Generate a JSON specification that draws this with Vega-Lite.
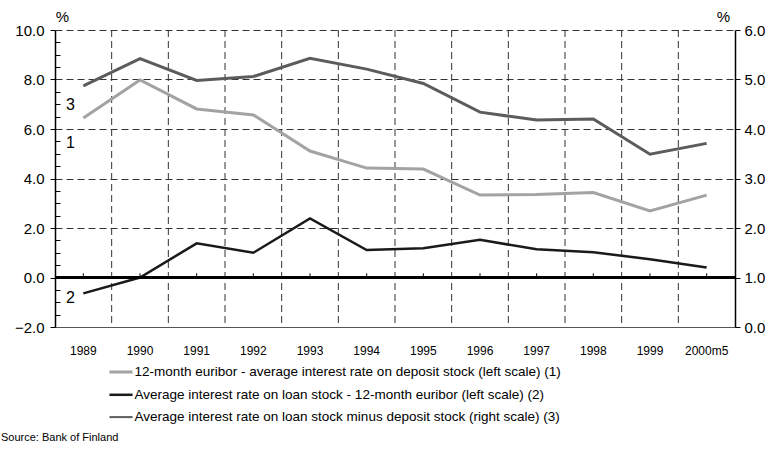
{
  "$schema": "https://vega.github.io/schema/vega-lite/v6.json",
  "width": 680,
  "height": 297,
  "autosize": {"type": "none"},
  "padding": {"left": 55, "top": 30, "right": 39, "bottom": 123},
  "background": "white",
  "config": {
    "font": "Liberation Sans",
    "view": {"stroke": null},
    "axis": {"labelColor": "#000", "titleColor": "#000", "tickColor": "#000", "domainColor": "#000"},
    "axisX": {"title": null, "labelAngle": 0, "labelFontSize": 12, "labelPadding": 18, "ticks": false, "domain": true, "domainColor": "#555", "domainWidth": 1, "grid": false}
  },
  "title": {
    "text": "Source: Bank of Finland",
    "orient": "bottom",
    "anchor": "start",
    "frame": "group",
    "fontSize": 11,
    "fontWeight": "normal",
    "color": "#000",
    "dx": -54,
    "offset": 8
  },
  "datasets": {
    "main": [
      {"year": "1989", "s": "1", "value": 6.44},
      {"year": "1990", "s": "1", "value": 7.98},
      {"year": "1991", "s": "1", "value": 6.81},
      {"year": "1992", "s": "1", "value": 6.57},
      {"year": "1993", "s": "1", "value": 5.11},
      {"year": "1994", "s": "1", "value": 4.42},
      {"year": "1995", "s": "1", "value": 4.38},
      {"year": "1996", "s": "1", "value": 3.33},
      {"year": "1997", "s": "1", "value": 3.35},
      {"year": "1998", "s": "1", "value": 3.43},
      {"year": "1999", "s": "1", "value": 2.69},
      {"year": "2000m5", "s": "1", "value": 3.33},
      {"year": "1989", "s": "2", "value": -0.64},
      {"year": "1990", "s": "2", "value": 0.0},
      {"year": "1991", "s": "2", "value": 1.38},
      {"year": "1992", "s": "2", "value": 1.0},
      {"year": "1993", "s": "2", "value": 2.39},
      {"year": "1994", "s": "2", "value": 1.11},
      {"year": "1995", "s": "2", "value": 1.18},
      {"year": "1996", "s": "2", "value": 1.52},
      {"year": "1997", "s": "2", "value": 1.14},
      {"year": "1998", "s": "2", "value": 1.02},
      {"year": "1999", "s": "2", "value": 0.74},
      {"year": "2000m5", "s": "2", "value": 0.4},
      {"year": "1989", "s": "3", "value": 4.87},
      {"year": "1990", "s": "3", "value": 5.42},
      {"year": "1991", "s": "3", "value": 4.98},
      {"year": "1992", "s": "3", "value": 5.06},
      {"year": "1993", "s": "3", "value": 5.43},
      {"year": "1994", "s": "3", "value": 5.21},
      {"year": "1995", "s": "3", "value": 4.92},
      {"year": "1996", "s": "3", "value": 4.34},
      {"year": "1997", "s": "3", "value": 4.18},
      {"year": "1998", "s": "3", "value": 4.2},
      {"year": "1999", "s": "3", "value": 3.49},
      {"year": "2000m5", "s": "3", "value": 3.71}
    ],
    "labels": [
      {"year": "1989", "value": 6.97, "label": "3"},
      {"year": "1989", "value": 5.43, "label": "1"},
      {"year": "1989", "value": -0.83, "label": "2"}
    ]
  },
  "data": {"name": "main"},
  "resolve": {"scale": {"y": "independent"}, "axis": {"y": "independent"}},
  "layer": [
    {
      "transform": [{"filter": "datum.s == '1' && datum.year != '1989'"}],
      "mark": {"type": "rule", "stroke": "#333", "strokeWidth": 1, "strokeDash": [7, 4]},
      "encoding": {
        "x": {"field": "year", "type": "ordinal", "bandPosition": 0,
              "scale": {"type": "band", "paddingInner": 0, "paddingOuter": 0, "domain": ["1989","1990","1991","1992","1993","1994","1995","1996","1997","1998","1999","2000m5"]}}
      }
    },
    {
      "mark": {"type": "rule", "opacity": 0},
      "encoding": {
        "y": {"datum": 0, "type": "quantitative",
              "scale": {"domain": [-2, 10], "nice": false, "zero": false},
              "axis": {"orient": "left", "values": [-1.5,-1,-0.5,0.5,1,1.5,2.5,3,3.5,4.5,5,5.5,6.5,7,7.5,8.5,9,9.5],
                       "labels": false, "domain": false, "grid": false, "ticks": true, "tickSize": -5, "tickWidth": 1, "title": null}}
      }
    },
    {
      "transform": [{"filter": "datum.s != '3'"}],
      "mark": {"type": "line", "strokeJoin": "miter"},
      "encoding": {
        "x": {"field": "year", "type": "ordinal", "bandPosition": 0.5,
              "scale": {"type": "band", "paddingInner": 0, "paddingOuter": 0, "domain": ["1989","1990","1991","1992","1993","1994","1995","1996","1997","1998","1999","2000m5"]}},
        "y": {"field": "value", "type": "quantitative",
              "scale": {"domain": [-2, 10], "nice": false, "zero": false},
              "axis": {"orient": "left", "values": [-2, 0, 2, 4, 6, 8, 10], "format": ".1f",
                       "labelFontSize": 15, "labelPadding": 6, "tickSize": 5, "tickWidth": 1,
                       "domain": true, "domainWidth": 1.5,
                       "grid": true, "gridColor": "#333", "gridDash": [7, 4], "gridWidth": 1,
                       "title": "%", "titleAngle": 0, "titleX": 7, "titleY": -14, "titleAlign": "center", "titleBaseline": "middle",
                       "titleFontSize": 15, "titleFontWeight": "normal"}},
        "color": {"field": "s", "type": "nominal",
                  "scale": {"domain": ["1", "2", "3"], "range": ["#a3a3a3", "#1a1a1a", "#5c5c5c"]},
                  "legend": {"orient": "none", "legendX": 54, "legendY": 330, "title": null, "padding": 0,
                             "symbolType": "M-1.1,0H1.1", "symbolSize": 441, "symbolStrokeWidth": 3,
                             "labelFontSize": 13.5, "labelOffset": 1.5, "labelLimit": 0, "rowPadding": 3.8, "labelColor": "#000",
                             "labelExpr": "datum.value == '1' ? '12-month euribor - average interest rate on deposit stock (left scale) (1)' : datum.value == '2' ? 'Average interest rate on loan stock - 12-month euribor (left scale) (2)' : 'Average interest rate on loan stock minus deposit stock (right scale) (3)'"}},
        "strokeWidth": {"field": "s", "type": "nominal", "scale": {"domain": ["1", "2", "3"], "range": [3, 2, 3]}, "legend": null}
      }
    },
    {
      "transform": [{"filter": "datum.s == '3'"}],
      "mark": {"type": "line", "strokeWidth": 3, "strokeJoin": "miter"},
      "encoding": {
        "x": {"field": "year", "type": "ordinal", "bandPosition": 0.5,
              "scale": {"type": "band", "paddingInner": 0, "paddingOuter": 0, "domain": ["1989","1990","1991","1992","1993","1994","1995","1996","1997","1998","1999","2000m5"]}},
        "y": {"field": "value", "type": "quantitative",
              "scale": {"domain": [0, 6], "nice": false, "zero": false},
              "axis": {"orient": "right", "values": [0, 1, 2, 3, 4, 5, 6], "format": ".1f",
                       "labelFontSize": 15, "labelPadding": 4, "tickSize": 5, "tickWidth": 1,
                       "domain": true, "domainWidth": 1.5, "grid": false,
                       "title": "%", "titleAngle": 0, "titleX": -12, "titleY": -14, "titleAlign": "center", "titleBaseline": "middle",
                       "titleFontSize": 15, "titleFontWeight": "normal"}},
        "color": {"field": "s", "type": "nominal",
                  "scale": {"domain": ["1", "2", "3"], "range": ["#a3a3a3", "#1a1a1a", "#5c5c5c"]},
                  "legend": {"orient": "none", "legendX": 54, "legendY": 330, "title": null, "padding": 0,
                             "symbolType": "M-1.1,0H1.1", "symbolSize": 441, "symbolStrokeWidth": 3,
                             "labelFontSize": 13.5, "labelOffset": 1.5, "labelLimit": 0, "rowPadding": 3.8, "labelColor": "#000",
                             "labelExpr": "datum.value == '1' ? '12-month euribor - average interest rate on deposit stock (left scale) (1)' : datum.value == '2' ? 'Average interest rate on loan stock - 12-month euribor (left scale) (2)' : 'Average interest rate on loan stock minus deposit stock (right scale) (3)'"}}
      }
    },
    {
      "mark": {"type": "rule", "stroke": "#000", "strokeWidth": 1.5},
      "encoding": {
        "y": {"datum": 0, "type": "quantitative", "scale": {"domain": [-2, 10], "nice": false, "zero": false}, "axis": null}
      }
    },
    {
      "transform": [{"filter": "datum.s == '1'"}],
      "mark": {"type": "rule", "stroke": "#000", "strokeWidth": 1},
      "encoding": {
        "x": {"field": "year", "type": "ordinal", "bandPosition": 0.5,
              "scale": {"type": "band", "paddingInner": 0, "paddingOuter": 0, "domain": ["1989","1990","1991","1992","1993","1994","1995","1996","1997","1998","1999","2000m5"]}},
        "y": {"datum": 0, "type": "quantitative", "scale": {"domain": [-2, 10], "nice": false, "zero": false}, "axis": null},
        "y2": {"datum": 0.17}
      }
    },
    {
      "data": {"name": "labels"},
      "mark": {"type": "text", "fontSize": 16, "dx": -13, "align": "center", "baseline": "middle", "color": "#000"},
      "encoding": {
        "x": {"field": "year", "type": "ordinal", "bandPosition": 0.5,
              "scale": {"type": "band", "paddingInner": 0, "paddingOuter": 0, "domain": ["1989","1990","1991","1992","1993","1994","1995","1996","1997","1998","1999","2000m5"]}},
        "y": {"field": "value", "type": "quantitative", "scale": {"domain": [-2, 10], "nice": false, "zero": false}, "axis": null},
        "text": {"field": "label"}
      }
    }
  ]
}
